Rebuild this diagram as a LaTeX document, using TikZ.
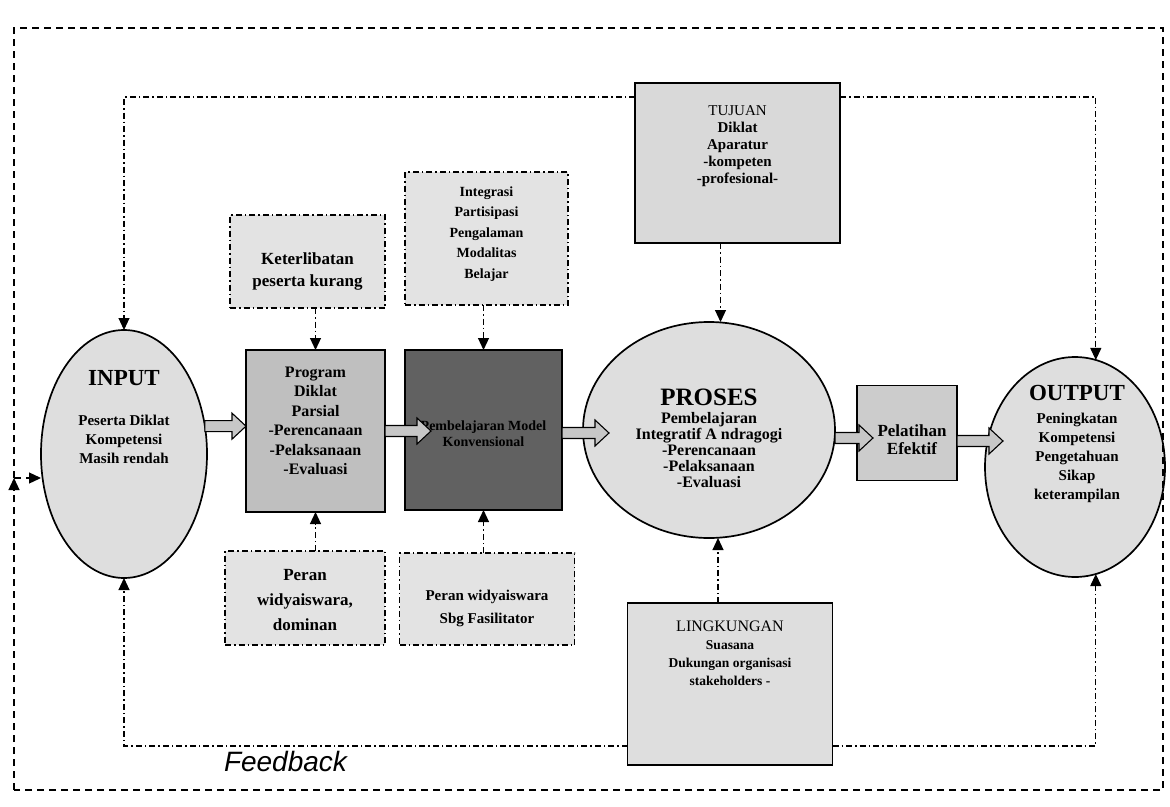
\documentclass[tikz,border=0pt]{standalone}
\usepackage{fontspec}
\setmainfont{Liberation Serif}
\newfontfamily\fbfont{Liberation Sans}
\usetikzlibrary{arrows.meta,calc,shapes.geometric}
\newcommand{\fs}[2]{\fontsize{#1}{#2}\selectfont}
\newcommand{\fatarrow}[2]{%
  \draw[fatarr] let \p1=#1, \p2=#2 in
    (\x1,\y1+5.5pt) -- (\x2-14pt,\y1+5.5pt) -- (\x2-14pt,\y1+13pt) -- (\x2,\y1)
    -- (\x2-14pt,\y1-13pt) -- (\x2-14pt,\y1-5.5pt) -- (\x1,\y1-5.5pt) -- cycle;}
\begin{document}
\begin{tikzpicture}[x=1pt,y=-1pt,
  every node/.style={inner sep=0pt, outer sep=0pt},
  circ/.style={ellipse, draw, line width=1.7pt, fill=black!13},
  solidbox/.style={rectangle, draw, line width=1.5pt},
  dbox/.style={rectangle, draw, line width=1.5pt, dash pattern=on 6pt off 3pt on 1.5pt off 3pt, fill=black!11},
  loopline/.style={line width=1.1pt, dash pattern=on 6pt off 3pt on 1.5pt off 3pt},
  frameline/.style={line width=1.3pt, dash pattern=on 7pt off 5pt},
  tipped/.style={-{Triangle[length=12pt,width=11pt]}},
  txt/.style={align=center, font=\bfseries},
  fatarr/.style={draw, line width=1.1pt, fill=black!22},
]
\useasboundingbox (0,0) rectangle (1170,806);

% main chain
\node[circ, minimum width=166pt, minimum height=248pt] (input) at (124,454) {};
\node[solidbox, fill=black!25, minimum width=139pt, minimum height=162pt] (program) at (315.5,431) {};
\node[solidbox, fill=black!62, minimum width=157pt, minimum height=160pt] (dark) at (483.5,430) {};
\node[circ, minimum width=252pt, minimum height=216pt] (proses) at (709,430) {};
\node[solidbox, fill=black!20, minimum width=100pt, minimum height=95pt] (pelatihan) at (907,433) {};
\node[circ, minimum width=180pt, minimum height=220pt] (output) at (1075,467) {};

% side boxes
\node[dbox, minimum width=155pt, minimum height=93pt] (ket) at (307.5,261.5) {};
\node[dbox, minimum width=163pt, minimum height=133pt] (integ) at (486.5,238.5) {};
\node[solidbox, fill=black!15, minimum width=205pt, minimum height=160pt] (tujuan) at (737.5,163) {};
\node[dbox, minimum width=160pt, minimum height=94pt] (peran) at (305,598) {};
\node[dbox, minimum width=175pt, minimum height=92pt] (fasil) at (487,599) {};
\node[solidbox, fill=black!13, minimum width=205pt, minimum height=162pt] (lingk) at (730,684) {};

% texts
\node[txt, font=\bfseries\fs{23}{24}] (inputtitle) at (124,378) {INPUT};
\node[txt, font=\bfseries\fs{15}{19}] (inputtxt) at (124,439) {Peserta Diklat\\Kompetensi\\Masih rendah};
\node[txt, font=\bfseries\fs{16}{19.5}] (progtxt) at (315.5,421) {Program\\Diklat\\Parsial\\-Perencanaan\\-Pelaksanaan\\-Evaluasi};
\node[txt, font=\bfseries\fs{14}{16}, text=black] (darktxt) at (483.5,434) {Pembelajaran Model\\Konvensional};
\node[txt, font=\bfseries\fs{25}{26}] (prosestitle) at (709,397) {PROSES};
\node[txt, font=\bfseries\fs{16}{16}] (prosestxt) at (709,450) {Pembelajaran\\Integratif A ndragogi\\-Perencanaan\\-Pelaksanaan\\-Evaluasi};
\node[txt, font=\bfseries\fs{17}{18}] (pelattxt) at (912,440) {Pelatihan\\Efektif};
\node[txt, font=\bfseries\fs{23}{24}] (outputtitle) at (1077,393) {OUTPUT};
\node[txt, font=\bfseries\fs{15}{19}] (outputtxt) at (1077,458) {Peningkatan\\Kompetensi\\Pengetahuan\\Sikap\\keterampilan};
\node[txt, font=\bfseries\fs{17}{22}] (kettxt) at (307.5,271) {Keterlibatan\\peserta kurang};
\node[txt, font=\bfseries\fs{14}{20.5}] (integtxt) at (486.5,234) {Integrasi\\Partisipasi\\Pengalaman\\Modalitas\\Belajar};
\node[txt, font=\bfseries\fs{15}{17}] (tujuantxt) at (737.5,146) {{\mdseries TUJUAN}\\Diklat\\Aparatur\\-kompeten\\-profesional-};
\node[txt, font=\bfseries\fs{17}{25}] (perantxt) at (305,600) {Peran\\widyaiswara,\\dominan};
\node[txt, font=\bfseries\fs{15}{23}] (fasiltxt) at (487,608) {Peran widyaiswara\\Sbg Fasilitator};
\node[txt, font=\bfseries\fs{13.5}{18}] (lingktxt) at (730,653) {{\mdseries\fs{16}{18}LINGKUNGAN}\\Suasana\\Dukungan organisasi\\stakeholders -};
\node[font=\fbfont\itshape\fs{28}{30}, anchor=west] (fbtext) at (224,761) {Feedback};

% fat arrows
\fatarrow{(input.19)}{(input.19 -| program.west)}
\fatarrow{(program.east)}{([xshift=26pt]program.east -| dark.west)}
\fatarrow{([yshift=-3pt]dark.east)}{([xshift=26pt,yshift=-3pt]dark.east -| proses.west)}
\fatarrow{([yshift=-8pt]proses.east)}{([xshift=16pt,yshift=-8pt]proses.east -| pelatihan.west)}
\fatarrow{([yshift=-8pt]pelatihan.east)}{([xshift=18pt,yshift=-8pt]pelatihan.east -| output.west)}

% loop lines
\coordinate (ytop) at (0,97);
\coordinate (ybot) at (0,746);
\draw[loopline, tipped] (tujuan.west |- ytop) -- (input.north |- ytop) -- (input.north);
\draw[loopline, tipped] (tujuan.east |- ytop) -- (output.79 |- ytop) -- (output.79);
\draw[loopline, tipped] (lingk.west |- ybot) -- (input.south |- ybot) -- (input.south);
\draw[loopline, tipped] (lingk.east |- ybot) -- (output.-79 |- ybot) -- (output.-79);

% small connectors
\draw[loopline, tipped] (program.north |- ket.south) -- (program.north);
\draw[loopline, tipped] (dark.north |- integ.south) -- (dark.north);
\draw[loopline, tipped] (program.south |- peran.north) -- (program.south);
\draw[loopline, tipped] (dark.south |- fasil.north) -- (dark.south);
\draw[loopline, tipped] ([xshift=-17pt]tujuan.south) -- ([xshift=-17pt]tujuan.south |- proses.north);
\draw[loopline, tipped] ([xshift=-12pt]lingk.north) -- ([xshift=-12pt]lingk.north |- proses.south);

% outer feedback frame
\coordinate (ftl) at (14,28);
\coordinate (ftr) at (1163,28);
\coordinate (fbr) at (1163,790);
\coordinate (fbl) at (14,790);
\coordinate (fj) at (14,478);
\draw[frameline] (fj) -- (ftl) -- (ftr) -- (fbr) -- (fbl);
\draw[frameline, tipped] (fbl) -- (fj);
\draw[frameline, tipped] (fj) -- (input.west |- fj);
\end{tikzpicture}
\end{document}
